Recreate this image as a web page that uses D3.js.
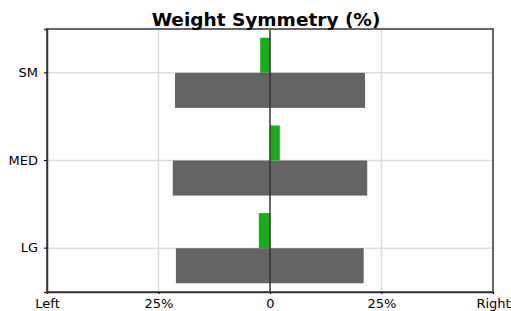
<!DOCTYPE html>
<html>
<head>
<meta charset="utf-8">
<script src="https://cdn.jsdelivr.net/npm/d3@7"></script>
<style>
  html, body { margin: 0; padding: 0; background: #fff; overflow: hidden; }
  svg { display: block; font-family: "DejaVu Sans", Verdana, sans-serif; }
</style>
</head>
<body>
<script>
const categories = ["SM", "MED", "LG"]
const leftWeight = [21.3, 21.8, 21.1]     // gray bar, left of centre (%)
const rightWeight = [21.3, 21.8, 21.0]    // gray bar, right of centre (%)
const symmetry = [-2.2, 2.2, -2.5]        // green bar (%)
const xTicks = [-50, -25, 0, 25, 50]
const xTickLabels = ["Left", "25%", "0", "25%", "Right"]

const width = 511, height = 311
const margin = { top: 29, right: 18, bottom: 19, left: 47 }

const svg = d3.select("body").append("svg")
  .attr("width", width).attr("height", height)

const x = d3.scaleLinear().domain([-50, 50]).range([margin.left, width - margin.right])
const y = d3.scaleBand().domain(categories).range([margin.top, height - margin.bottom])
const bw = y.bandwidth()
const barH = bw * 0.4

// grid
const grid = svg.append("g")
grid.selectAll("line.vg").data([-25, 25]).join("line")
  .attr("x1", d => x(d)).attr("x2", d => x(d))
  .attr("y1", margin.top).attr("y2", height - margin.bottom)
  .attr("stroke", "#ddd").attr("stroke-width", 1.5)
grid.selectAll("line.hg").data(categories).join("line")
  .attr("x1", margin.left).attr("x2", width - margin.right)
  .attr("y1", d => y(d) + bw / 2).attr("y2", d => y(d) + bw / 2)
  .attr("stroke", "#ddd").attr("stroke-width", 1.5)

// gray weight bars
const rows = categories.map((c, i) => ({ c, l: leftWeight[i], r: rightWeight[i], s: symmetry[i] }))
svg.selectAll("rect.w").data(rows).join("rect")
  .attr("x", d => x(-d.l))
  .attr("width", d => x(d.r) - x(-d.l))
  .attr("y", d => y(d.c) + bw / 2)
  .attr("height", barH)
  .attr("fill", "#646464")

// green symmetry bars
svg.selectAll("rect.s").data(rows).join("rect")
  .attr("x", d => x(Math.min(0, d.s)))
  .attr("width", d => Math.abs(x(d.s) - x(0)))
  .attr("y", d => y(d.c) + bw / 2 - barH)
  .attr("height", barH)
  .attr("fill", "#15b015")

// centre line
svg.append("line")
  .attr("x1", x(0)).attr("x2", x(0))
  .attr("y1", margin.top).attr("y2", height - margin.bottom)
  .attr("stroke", "#333").attr("stroke-width", 1.5)

// frame
svg.append("rect")
  .attr("x", margin.left).attr("y", margin.top)
  .attr("width", width - margin.left - margin.right)
  .attr("height", height - margin.top - margin.bottom)
  .attr("fill", "none").attr("stroke", "#666").attr("stroke-width", 2)

// axes
const xAxis = svg.append("g")
  .attr("transform", `translate(0,${height - margin.bottom})`)
  .call(d3.axisBottom(x).tickValues(xTicks)
    .tickFormat((d, i) => xTickLabels[i]).tickSize(2).tickPadding(5))
xAxis.select(".domain").attr("stroke", "#333").attr("stroke-width", 1.5)
xAxis.selectAll(".tick line").attr("stroke", "#000")
xAxis.selectAll("text").attr("font-size", 13).attr("fill", "#000")
  .attr("font-family", "DejaVu Sans, sans-serif")

const yAxis = svg.append("g")
  .attr("transform", `translate(${margin.left},0)`)
  .call(d3.axisLeft(y).tickSize(3).tickPadding(6))
yAxis.select(".domain").attr("stroke", "#333").attr("stroke-width", 1.5)
yAxis.selectAll(".tick line").attr("stroke", "#000")
yAxis.selectAll("text").attr("font-size", 13).attr("fill", "#000")
  .attr("font-family", "DejaVu Sans, sans-serif")

// title
svg.append("text")
  .attr("x", 266).attr("y", 26)
  .attr("text-anchor", "middle")
  .attr("font-size", 18.5).attr("font-weight", "bold")
  .text("Weight Symmetry (%)")
</script>
</body>
</html>
